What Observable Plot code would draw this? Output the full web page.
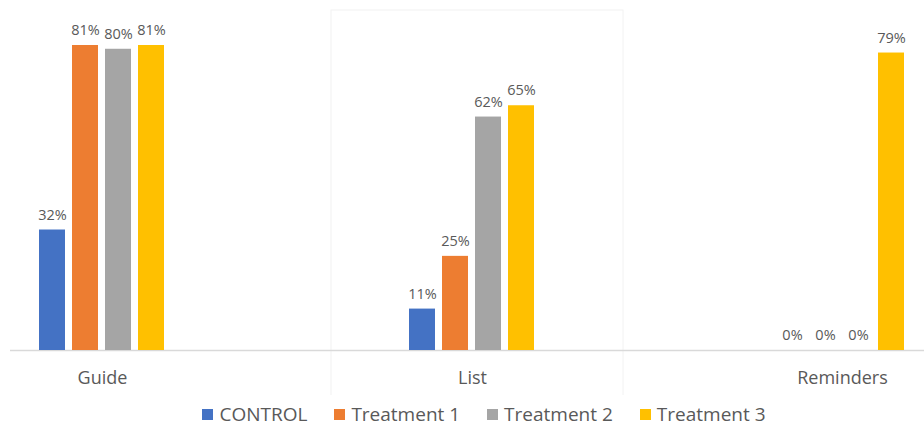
<!DOCTYPE html>
<html>
<head>
<meta charset="utf-8">
<script src="https://cdn.jsdelivr.net/npm/d3@7"></script>
<script src="https://cdn.jsdelivr.net/npm/@observablehq/plot@0.6"></script>
<style>
  html, body { margin: 0; padding: 0; background: #fff; }
  body { width: 924px; height: 426px; overflow: hidden; font-family: "Open Sans", "Noto Sans", sans-serif; }
  #legend { display: flex; justify-content: center; align-items: center; gap: 27px; font-size: 19px; color: #595959; height: 38px; margin-left: 44px; }
  #legend .item { display: flex; align-items: center; gap: 6px; }
  #legend .sw { width: 11px; height: 11px; display: inline-block; }
</style>
</head>
<body>
<div id="chart"></div>
<div id="legend"></div>
<script>
const groups = ["Guide", "List", "Reminders"];
const series = ["CONTROL", "Treatment 1", "Treatment 2", "Treatment 3"];
const control = [32, 11, 0];
const treatment1 = [81, 25, 0];
const treatment2 = [80, 62, 0];
const treatment3 = [81, 65, 79];
const colors = ["#4472C4", "#ED7D31", "#A5A5A5", "#FFC000"];

const seriesValues = [control, treatment1, treatment2, treatment3];
const data = groups.flatMap((g, i) => series.map((s, j) => ({group: g, series: s, value: seriesValues[j][i]})));

const plot = Plot.plot({
  width: 924,
  height: 395,
  marginLeft: -83,
  marginRight: -103,
  marginTop: 45,
  marginBottom: 45,
  style: {fontFamily: "'Open Sans', 'Noto Sans', sans-serif", color: "#595959", background: "#fff"},
  fx: {domain: groups, padding: 0, label: null},
  x: {domain: series, paddingInner: 0.2, paddingOuter: 3.59, axis: null},
  y: {domain: [0, 81], axis: null},
  color: {domain: series, range: colors},
  marks: [
    Plot.rect([{group: "List"}], {fx: "group", fill: "none", stroke: "#f2f2f2", strokeWidth: 1, insetLeft: 44, insetRight: 34, insetTop: -35, insetBottom: -60}),
    Plot.ruleY([{group: "Guide", v: 0}], {fx: "group", y: "v", stroke: "#d9d9d9", strokeWidth: 1.5, insetLeft: 93}),
    Plot.ruleY([{group: "List", v: 0}, {group: "Reminders", v: 0}], {fx: "group", y: "v", stroke: "#d9d9d9", strokeWidth: 1.5}),
    Plot.barY(data, {fx: "group", x: "series", y: "value", fill: "series"}),
    Plot.text(data, {fx: "group", x: "series", y: "value", text: d => d.value + "%", dy: -15, fontSize: 14.5, fill: "#595959"}),
    Plot.axisFx({anchor: "bottom", tickSize: 0, tickPadding: 21, fontSize: 18, fill: "#595959", label: null})
  ]
});
document.getElementById("chart").appendChild(plot);

const legend = document.getElementById("legend");
series.forEach((s, j) => {
  const item = document.createElement("div");
  item.className = "item";
  const sw = document.createElement("span");
  sw.className = "sw";
  sw.style.background = colors[j];
  const label = document.createElement("span");
  label.textContent = s;
  item.appendChild(sw);
  item.appendChild(label);
  legend.appendChild(item);
});
</script>
</body>
</html>
